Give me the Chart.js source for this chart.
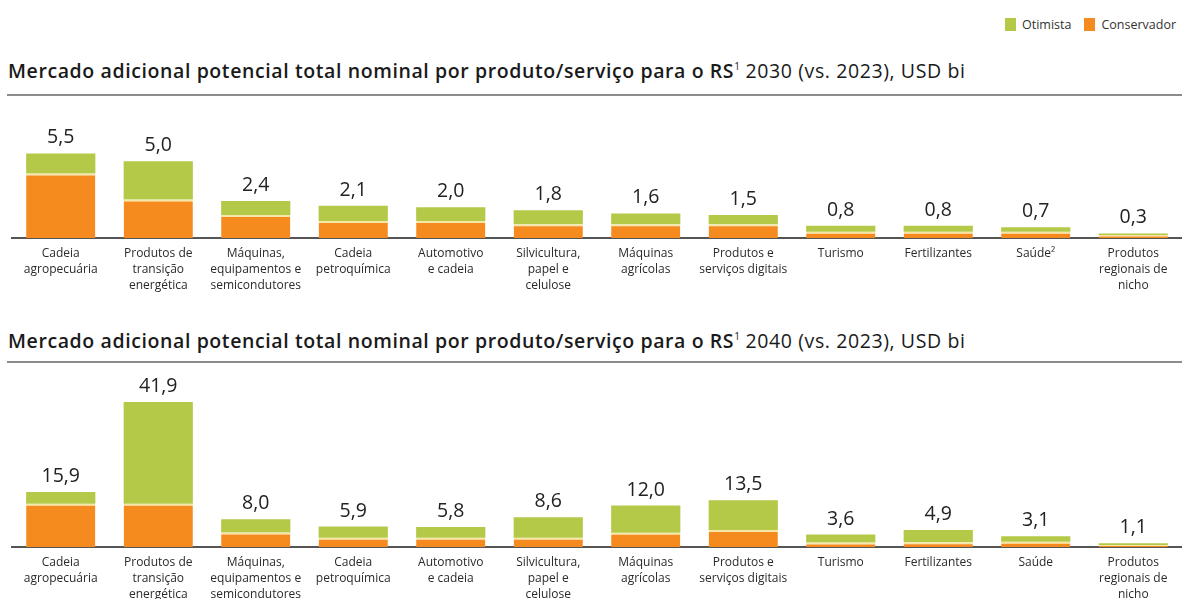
<!DOCTYPE html>
<html lang="pt-BR">
<head>
<meta charset="utf-8">
<script src="https://cdn.jsdelivr.net/npm/chart.js@4"></script>
<style>
  html, body { margin: 0; padding: 0; background: #fff; }
  body { width: 1182px; height: 599px; position: relative; overflow: hidden; font-family: "Open Sans", sans-serif; color: #222; }
  .legend { position: absolute; top: 17px; left: 1005px; font-size: 12.5px; line-height: 16px; color: #333; white-space: nowrap; }
  .legend span.sw { display: inline-block; width: 11px; height: 13px; vertical-align: -2px; margin-right: 6px; }
  .legend span.lbl { margin-right: 13px; }
  .title { position: absolute; left: 8px; font-size: 19.5px; letter-spacing: 0.6px; line-height: 24px; white-space: nowrap; color: #1a1a1a; }
  .title b { font-weight: 600; }
  .title sup { font-size: 10px; vertical-align: 8px; line-height: 0; letter-spacing: 0; }
  .rule { position: absolute; left: 7px; right: 0; height: 2px; background: #8c8c8c; }
  canvas { position: absolute; left: 0; }
</style>
</head>
<body>

<div class="legend">
  <span class="sw" style="background:#b4c947"></span><span class="lbl">Otimista</span><span class="sw" style="background:#f58a1f"></span><span>Conservador</span>
</div>

<div class="title" style="top:59px"><b>Mercado adicional potencial total nominal por produto/serviço para o RS</b><sup>1</sup> 2030 (vs. 2023), USD bi</div>
<div class="rule" style="top:94px"></div>
<div style="position:absolute;top:100px;left:0;width:1182px;height:200px"><canvas id="chart2030"></canvas></div>

<div class="title" style="top:329px"><b>Mercado adicional potencial total nominal por produto/serviço para o RS</b><sup>1</sup> 2040 (vs. 2023), USD bi</div>
<div class="rule" style="top:361px"></div>
<div style="position:absolute;top:370px;left:0;width:1182px;height:229px"><canvas id="chart2040"></canvas></div>

<script>
// categorias (rótulos em várias linhas)
const categories2030 = [
  ['Cadeia', 'agropecuária'],
  ['Produtos de', 'transição', 'energética'],
  ['Máquinas,', 'equipamentos e', 'semicondutores'],
  ['Cadeia', 'petroquímica'],
  ['Automotivo', 'e cadeia'],
  ['Silvicultura,', 'papel e', 'celulose'],
  ['Máquinas', 'agrícolas'],
  ['Produtos e', 'serviços digitais'],
  ['Turismo'],
  ['Fertilizantes'],
  ['Saúde²'],
  ['Produtos', 'regionais de', 'nicho']
];
const categories2040 = categories2030.map((c, i) => i === 10 ? ['Saúde'] : c);

// 2030 - total (cenário otimista) e parcela conservadora, USD bi
const total2030 = [5.5, 5.0, 2.4, 2.1, 2.0, 1.8, 1.6, 1.5, 0.8, 0.8, 0.7, 0.3];
const conservador2030 = [4.2, 2.5, 1.5, 1.1, 1.1, 0.9, 0.9, 0.9, 0.4, 0.4, 0.4, 0.2];

// 2040
const total2040 = [15.9, 41.9, 8.0, 5.9, 5.8, 8.6, 12.0, 13.5, 3.6, 4.9, 3.1, 1.1];
const conservador2040 = [12.5, 12.5, 4.2, 2.7, 2.7, 2.7, 4.1, 4.9, 1.3, 1.4, 1.5, 0.6];

const VERDE = '#b4c947';
const LARANJA = '#f58a1f';
const FONT = "'Open Sans', sans-serif";

// escreve o total acima de cada barra empilhada
const totalLabels = {
  id: 'totalLabels',
  afterDatasetsDraw(chart, args, opts) {
    const { ctx } = chart;
    const meta = chart.getDatasetMeta(1);
    ctx.save();
    ctx.font = '19.5px ' + FONT;
    ctx.fillStyle = '#222';
    ctx.textAlign = 'center';
    ctx.textBaseline = 'alphabetic';
    meta.data.forEach((bar, i) => {
      const txt = opts.totals[i].toFixed(1).replace('.', ',');
      ctx.fillText(txt, bar.x, bar.y - 10);
    });
    ctx.restore();
  }
};

function createChart(canvasId, labels, totals, cons, yMax, padTop, axisHeight) {
  const ctx = document.getElementById(canvasId).getContext('2d');
  return new Chart(ctx, {
    type: 'bar',
    data: {
      labels,
      datasets: [
        {
          label: 'Conservador',
          data: cons,
          backgroundColor: LARANJA,
          borderColor: '#f7e7a6',
          borderWidth: { top: 2, left: 0, right: 0, bottom: 0 },
          borderSkipped: false
        },
        {
          label: 'Otimista',
          data: totals.map((t, i) => +(t - cons[i]).toFixed(2)),
          backgroundColor: VERDE,
          borderWidth: 0
        }
      ]
    },
    options: {
      responsive: true,
      maintainAspectRatio: false,
      animation: false,
      layout: { padding: { top: padTop, left: 12, right: 0, bottom: 0 } },
      datasets: { bar: { barPercentage: 0.71, categoryPercentage: 1 } },
      plugins: {
        legend: { display: false },
        tooltip: { enabled: false },
        totalLabels: { totals }
      },
      scales: {
        x: {
          stacked: true,
          grid: { display: false, drawTicks: false },
          border: { display: true, color: '#555', width: 2 },
          ticks: {
            autoSkip: false,
            maxRotation: 0,
            padding: 8,
            color: '#2a2a2a',
            font: { family: FONT, size: 12, lineHeight: 1.33 }
          },
          afterFit(scale) { scale.height = axisHeight; }
        },
        y: {
          stacked: true,
          display: false,
          min: 0,
          max: yMax
        }
      }
    },
    plugins: [totalLabels]
  });
}

createChart('chart2030', categories2030, total2030, conservador2030, 8, 15, 62);
createChart('chart2040', categories2040, total2040, conservador2040, 48, 11, 52);
</script>
</body>
</html>
